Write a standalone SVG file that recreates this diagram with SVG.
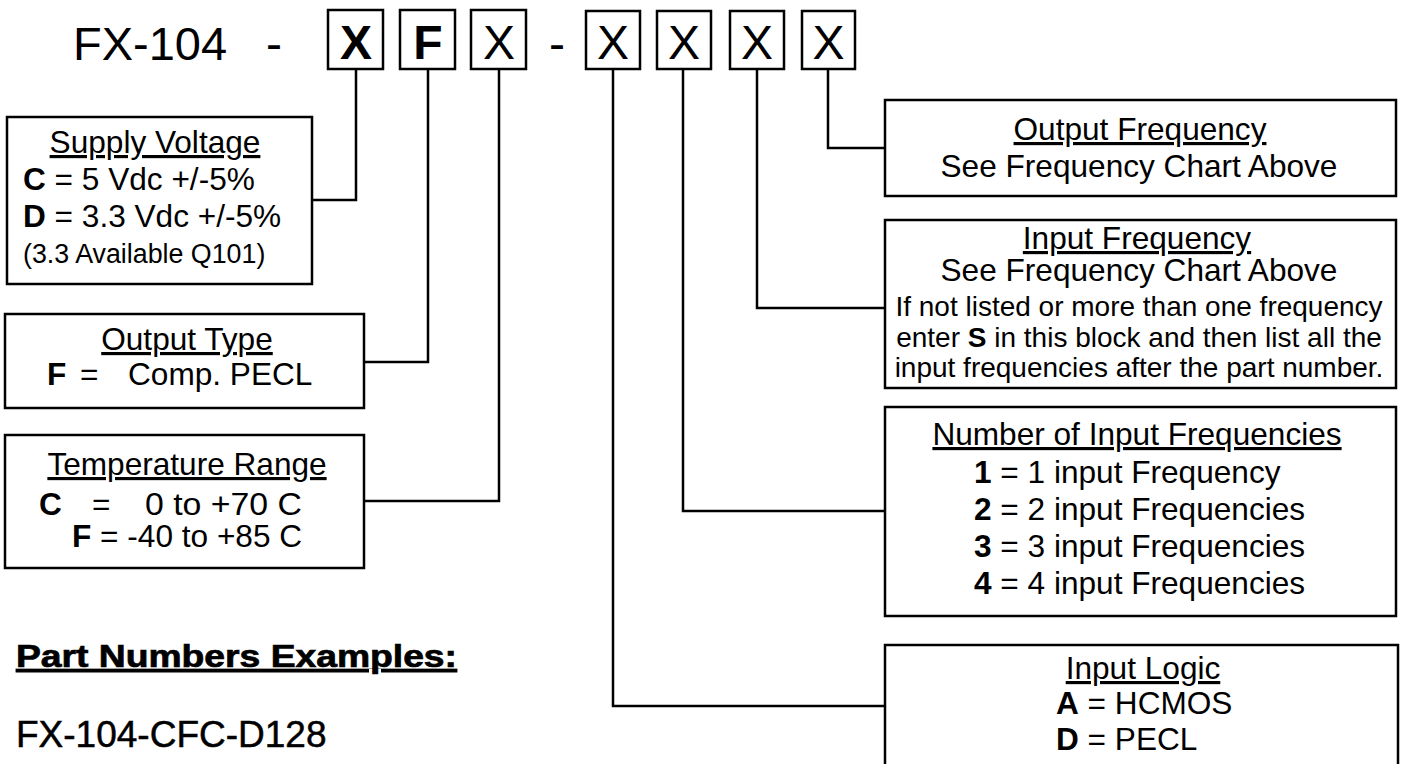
<svg xmlns="http://www.w3.org/2000/svg" width="1401" height="764" viewBox="0 0 1401 764">
<style>
text{font-family:"Liberation Sans",Arial,sans-serif;fill:#000}
.t{font-size:31.6px}
.s{font-size:26.8px}
.m{font-size:28px}
.h{font-size:31.6px;text-decoration:underline}
.c{text-anchor:middle}
.b{font-weight:bold}
.box{fill:#fff;stroke:#000;stroke-width:2.5}
.cell{fill:#fff;stroke:#000;stroke-width:2.5}
.big{font-size:48px}
.con{fill:none;stroke:#000;stroke-width:2.5}
</style>
<rect width="1401" height="764" fill="#fff"/>

<g id="header">
<text x="73" y="60" font-size="47">FX-104</text>
<text class="big" x="266" y="60">-</text>
<text class="big" x="549" y="60">-</text>
<rect class="cell" x="328" y="10" width="55" height="59"/>
<text class="big b c" x="356" y="59">X</text>
<rect class="cell" x="400" y="10" width="55" height="59"/>
<text class="big b c" x="428" y="59">F</text>
<rect class="cell" x="471" y="10" width="55" height="59"/>
<text class="big c" x="499" y="59">X</text>
<rect class="cell" x="586" y="11" width="54" height="58"/>
<text class="big c" x="613" y="59">X</text>
<rect class="cell" x="657" y="11" width="54" height="58"/>
<text class="big c" x="684" y="59">X</text>
<rect class="cell" x="730" y="11" width="54" height="58"/>
<text class="big c" x="757" y="59">X</text>
<rect class="cell" x="802" y="11" width="53" height="58"/>
<text class="big c" x="828.5" y="59">X</text>
</g>

<g id="connectors">
<path class="con" d="M356,69 V200 H312"/>
<path class="con" d="M428,69 V362 H364"/>
<path class="con" d="M499,69 V501 H364"/>
<path class="con" d="M613,69 V706 H885"/>
<path class="con" d="M683,69 V511 H885"/>
<path class="con" d="M757,69 V308 H885"/>
<path class="con" d="M828,69 V148 H885"/>
</g>

<g id="supply-voltage">
<rect class="box" x="7" y="117" width="305" height="167"/>
<text class="h c" x="155" y="153">Supply Voltage</text>
<text class="t" x="23" y="190"><tspan class="b">C</tspan> = 5 Vdc +/-5%</text>
<text class="t" x="23" y="227"><tspan class="b">D</tspan> = 3.3 Vdc +/-5%</text>
<text class="s" x="23" y="263">(3.3 Available Q101)</text>
</g>

<g id="output-type">
<rect class="box" x="5" y="314" width="359" height="94"/>
<text class="h c" x="187" y="350">Output Type</text>
<text class="t" x="47" y="385"><tspan class="b">F</tspan><tspan x="80">=</tspan><tspan x="128">Comp. PECL</tspan></text>
</g>

<g id="temperature-range">
<rect class="box" x="5" y="435" width="359" height="133"/>
<text class="h c" x="187" y="475">Temperature Range</text>
<text class="t" x="39" y="515"><tspan class="b">C</tspan><tspan x="92">=</tspan></text>
<text class="t" x="145" y="515" textLength="157" lengthAdjust="spacingAndGlyphs">0 to +70 C</text>
<text class="t" x="72" y="547"><tspan class="b">F</tspan> = -40 to +85 C</text>
</g>

<g id="examples">
<text class="b" x="16" y="667" font-size="31" stroke="#000" stroke-width="0.7" text-decoration="underline" textLength="441" lengthAdjust="spacingAndGlyphs">Part Numbers Examples:</text>
<text x="16" y="747" font-size="37" stroke="#000" stroke-width="0.5">FX-104-CFC-D128</text>
</g>

<g id="output-frequency">
<rect class="box" x="885" y="100" width="511" height="96"/>
<text class="h c" x="1140" y="140">Output Frequency</text>
<text class="t c" x="1139" y="177">See Frequency Chart Above</text>
</g>

<g id="input-frequency">
<rect class="box" x="885" y="220" width="511" height="168"/>
<text class="h c" x="1137" y="249">Input Frequency</text>
<text class="t c" x="1139" y="281">See Frequency Chart Above</text>
<text class="m c" x="1139" y="316">If not listed or more than one frequency</text>
<text class="m c" x="1139" y="347">enter <tspan class="b">S</tspan> in this block and then list all the</text>
<text class="m c" x="1139" y="377">input frequencies after the part number.</text>
</g>

<g id="number-of-input-frequencies">
<rect class="box" x="885" y="407" width="511" height="209"/>
<text class="h c" x="1137" y="445">Number of Input Frequencies</text>
<text class="t" x="974" y="483"><tspan class="b">1</tspan> = 1 input Frequency</text>
<text class="t" x="974" y="520"><tspan class="b">2</tspan> = 2 input Frequencies</text>
<text class="t" x="974" y="557"><tspan class="b">3</tspan> = 3 input Frequencies</text>
<text class="t" x="974" y="594"><tspan class="b">4</tspan> = 4 input Frequencies</text>
</g>

<g id="input-logic">
<rect class="box" x="885" y="645" width="513" height="140"/>
<text class="h c" x="1143" y="679">Input Logic</text>
<text class="t" x="1056" y="714"><tspan class="b">A</tspan> = HCMOS</text>
<text class="t" x="1056" y="750"><tspan class="b">D</tspan> = PECL</text>
</g>
</svg>
